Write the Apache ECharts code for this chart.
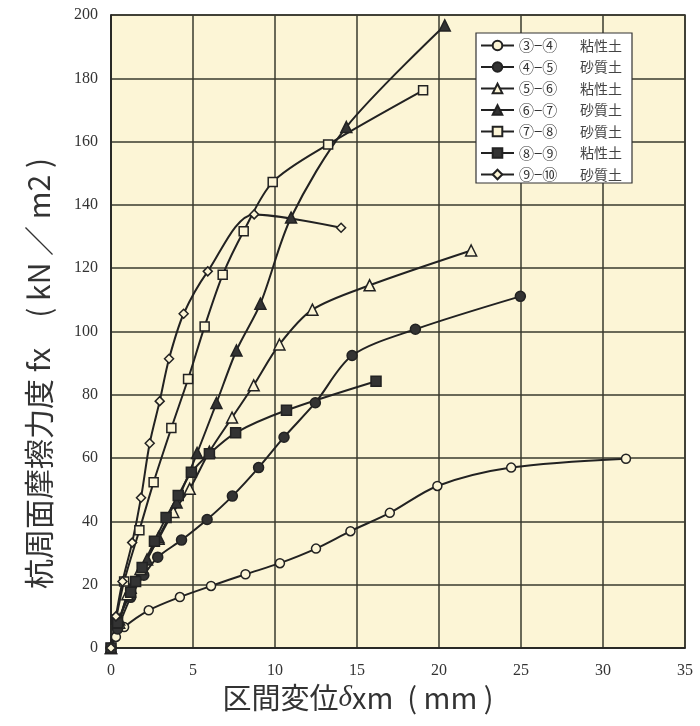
<!DOCTYPE html>
<html>
<head>
<meta charset="utf-8">
<script src="https://cdn.jsdelivr.net/npm/echarts@6/dist/echarts.min.js"></script>
<style>
html,body{margin:0;padding:0;background:#fff;}
#chart{width:700px;height:726px;}
</style>
</head>
<body>
<div id="chart"></div>
<script>
// Data (x: 区間変位 mm, y: 杭周面摩擦力度 kN/m2)
const s3_4 = [[0,0],[0.3,3.5],[0.8,6.6],[2.3,11.9],[4.2,16.1],[6.1,19.6],[8.2,23.3],[10.3,26.8],[12.5,31.4],[14.6,36.9],[17.0,42.7],[19.9,51.2],[24.4,57.0],[31.4,59.8]];
const s4_5 = [[0,0],[0.4,6],[1.2,16],[2.0,23],[2.85,28.7],[4.3,34.1],[5.86,40.6],[7.4,48.0],[9.0,57.0],[10.55,66.6],[12.46,77.5],[14.7,92.4],[18.56,100.7],[24.96,111.1]];
const s5_6 = [[0,0],[0.5,8],[1.0,17],[1.8,25],[2.9,34.5],[3.8,43],[4.8,50.3],[6.0,62],[7.38,72.8],[8.7,83.0],[10.27,95.9],[12.28,106.9],[15.77,114.6],[21.96,125.6]];
const s6_7 = [[0,0],[0.5,9],[1.2,19],[2.2,28],[2.9,35],[4.0,46],[5.25,61.6],[6.43,77.4],[7.65,94.0],[9.11,108.8],[10.98,136.0],[14.35,164.6],[20.35,196.7]];
const s7_8 = [[0,0],[0.3,9],[0.8,21],[1.73,37.2],[2.6,52.4],[3.68,69.5],[4.7,85],[5.71,101.6],[6.81,117.9],[8.09,131.7],[9.86,147.2],[13.24,159.1],[19.03,176.2]];
const s8_9 = [[0,0],[0.4,8],[1.2,17.6],[1.5,21],[1.9,25.4],[2.65,33.7],[3.36,41.2],[4.1,48.2],[4.9,55.5],[6.0,61.4],[7.6,68.0],[10.7,75.1],[16.16,84.3]];
const s9_10 = [[0,0],[0.3,10],[0.7,21],[1.29,33.3],[1.83,47.5],[2.36,64.7],[2.97,78.0],[3.54,91.4],[4.43,105.6],[5.9,119.0],[8.73,137.0],[14.03,132.8]];

const seriesNames = ['③−④','④−⑤','⑤−⑥','⑥−⑦','⑦−⑧','⑧−⑨','⑨−⑩'];
const soilTypes = ['粘性土','砂質土','粘性土','砂質土','砂質土','粘性土','砂質土'];
const seriesData = [s3_4, s4_5, s5_6, s6_7, s7_8, s8_9, s9_10];

const xTicks = [0,5,10,15,20,25,30,35];
const yTicks = [0,20,40,60,80,100,120,140,160,180,200];

const BG = '#fcf5d6';
const INK = '#222';
const styles = [
  {symbol:'circle', size:9, fill:BG},
  {symbol:'circle', size:10, fill:'#333'},
  {symbol:'triangle', size:11, fill:BG},
  {symbol:'triangle', size:11, fill:'#333'},
  {symbol:'rect', size:9, fill:BG},
  {symbol:'rect', size:10, fill:'#333'},
  {symbol:'diamond', size:9, fill:BG}
];

const chart = echarts.init(document.getElementById('chart'), null, {renderer:'canvas'});
const series = seriesData.map((d,i)=>({
  name: seriesNames[i],
  type: 'line',
  data: d,
  smooth: 0.3,
  symbol: styles[i].symbol,
  symbolSize: styles[i].size,
  lineStyle: {color: INK, width: 2},
  itemStyle: {color: styles[i].fill, borderColor: INK, borderWidth: 1.5},
  emphasis: {disabled: true},
  z: 3
}));

chart.setOption({
  animation: false,
  backgroundColor: '#fff',
  grid: {left: 111, right: 15, top: 15, bottom: 78, show: true, backgroundColor: BG, borderColor: INK, borderWidth: 1.5},
  legend: {
    orient: 'vertical',
    left: 476, top: 33,
    backgroundColor: '#fff',
    borderColor: '#333', borderWidth: 1.2,
    padding: [5, 10, 1, 4],
    itemWidth: 33, itemHeight: 12, itemGap: 6.5,
    data: seriesNames,
    formatter: function(name){
      const i = seriesNames.indexOf(name);
      return '{n|' + name + '}{t|' + soilTypes[i] + '}';
    },
    textStyle: {
      color: '#333',
      rich: {
        n: {width: 61, fontSize: 15, fontFamily: 'Noto Sans CJK JP', color: '#333'},
        t: {fontSize: 14, fontFamily: 'Noto Sans CJK JP', color: '#444'}
      }
    }
  },
  xAxis: {
    type: 'value', min: 0, max: 35, interval: 5,
    axisLine: {show: true, lineStyle: {color: INK, width: 1.5}},
    axisTick: {show: false},
    splitLine: {show: true, lineStyle: {color: '#3a3a2e', width: 1.5}},
    axisLabel: {color: '#333', fontSize: 16, fontFamily: 'Liberation Serif', margin: 15,
      formatter: v => xTicks.includes(v) ? String(v) : ''},
    name: '区間変位{i|δ}xm{s| }( mm )',
    nameLocation: 'middle', nameGap: 34,
    nameTextStyle: {fontSize: 29, color: '#333', fontFamily: 'Noto Sans CJK JP', padding: [0, 80, 0, 0],
      rich: {i: {fontSize: 29, fontStyle: 'italic', fontFamily: 'Liberation Serif', color: '#333'},
             s: {width: 14, fontSize: 29}}}
  },
  yAxis: {
    type: 'value', min: 0, max: 200, interval: 20,
    axisLine: {show: true, lineStyle: {color: INK, width: 1.5}},
    axisTick: {show: false},
    splitLine: {show: true, lineStyle: {color: '#3a3a2e', width: 1.5}},
    axisLabel: {color: '#333', fontSize: 16, fontFamily: 'Liberation Serif', margin: 13,
      formatter: v => yTicks.includes(v) ? String(v) : ''},
    name: '杭周面摩擦力度 fx　( kN ／ m2 )',
    nameLocation: 'middle', nameGap: 57, nameRotate: 90,
    nameTextStyle: {fontSize: 30, color: '#333', fontFamily: 'Noto Sans CJK JP', padding: [0, 84, 0, 0]}
  },
  series: series
});
</script>
</body>
</html>
